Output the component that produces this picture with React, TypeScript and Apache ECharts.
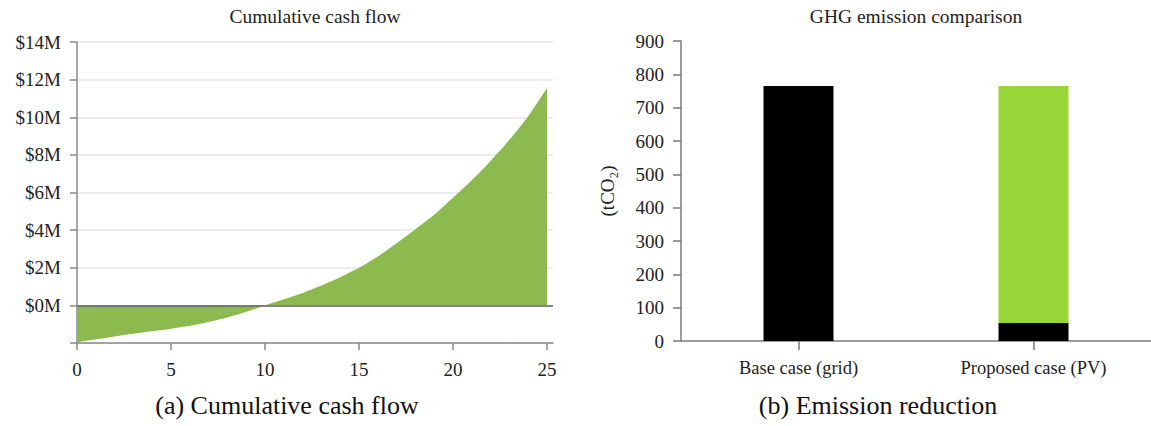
import React, { useEffect, useRef } from 'react';
import * as echarts from 'echarts';

const years = [0, 1, 2, 3, 4, 5, 6, 7, 8, 9, 10, 11, 12, 13, 14, 15, 16, 17, 18, 19, 20, 21, 22, 23, 24, 25];
const cumulativeCashFlowM = [
  -1.96, -1.8, -1.65, -1.51, -1.38, -1.24, -1.08, -0.88, -0.64, -0.34, 0.0,
  0.32, 0.66, 1.06, 1.5, 2.0, 2.6, 3.3, 4.05, 4.82, 5.72, 6.65, 7.68, 8.8, 10.05, 11.55,
];
const xTickYears = [0, 5, 10, 15, 20, 25];
const emissionCategories = ['Base case (grid)', 'Proposed case (PV)'];
const gridEmissions = [765, 54];
const pvEmissions = [0, 711];

const FONT = 'Liberation Serif';
const TICK_FS = 19;

export default function App() {
  const ref = useRef<HTMLDivElement>(null);
  useEffect(() => {
    if (!ref.current) return;
    const chart = echarts.init(ref.current, undefined, { renderer: 'svg' });
    const txt = (text: string, x: number, y: number, size: number, fill: string) => ({
      type: 'text',
      x,
      y,
      style: { text, fontSize: size, fontFamily: FONT, fill, textAlign: 'center', textVerticalAlign: 'middle' },
    });
    chart.setOption({
      animation: false,
      textStyle: { fontFamily: FONT },
      grid: [
        { left: 77, top: 42, width: 476, height: 301 },
        { left: 681, top: 41, width: 474, height: 300 },
      ],
      xAxis: [
        {
          gridIndex: 0,
          type: 'value',
          min: 0,
          max: 25.32,
          splitLine: { show: false },
          axisLine: { onZero: false, lineStyle: { color: '#8a8a8a', width: 1.5 } },
          axisTick: { show: true, length: 7, customValues: xTickYears, lineStyle: { color: '#8a8a8a', width: 1.5 } },
          axisLabel: { customValues: xTickYears, margin: 17, fontSize: TICK_FS, color: '#222', fontFamily: FONT },
        },
        {
          gridIndex: 1,
          type: 'category',
          data: emissionCategories,
          axisLine: { lineStyle: { color: '#7a7a7a', width: 1.5 } },
          axisTick: { show: true, alignWithLabel: true, length: 9, lineStyle: { color: '#7a7a7a', width: 1.5 } },
          axisLabel: { margin: 17, fontSize: 18.5, color: '#222', fontFamily: FONT },
        },
      ],
      yAxis: [
        {
          gridIndex: 0,
          type: 'value',
          min: -2,
          max: 14,
          interval: 2,
          axisLine: { show: true, lineStyle: { color: '#8a8a8a', width: 1.5 } },
          axisTick: { show: true, length: 7, lineStyle: { color: '#8a8a8a', width: 1.5 } },
          axisLabel: {
            margin: 16,
            fontSize: TICK_FS,
            color: '#222',
            fontFamily: FONT,
            formatter: (v: number) => (v < 0 ? '' : '$' + v + 'M'),
          },
          splitLine: { show: true, lineStyle: { color: '#e6e6e6', width: 1.5 } },
        },
        {
          gridIndex: 1,
          type: 'value',
          min: 0,
          max: 900,
          interval: 100,
          name: '(tCO₂)',
          nameLocation: 'middle',
          nameGap: 64,
          nameTextStyle: { fontSize: 19, color: '#222', fontFamily: FONT },
          axisLine: { show: true, lineStyle: { color: '#7a7a7a', width: 1.5 } },
          axisTick: { show: true, length: 8, lineStyle: { color: '#7a7a7a', width: 1.5 } },
          axisLabel: { margin: 17, fontSize: TICK_FS, color: '#222', fontFamily: FONT },
          splitLine: { show: false },
        },
      ],
      series: [
        {
          type: 'line',
          xAxisIndex: 0,
          yAxisIndex: 0,
          data: years.map((y, i) => [y, cumulativeCashFlowM[i]]),
          smooth: 0.3,
          showSymbol: false,
          symbol: 'none',
          lineStyle: { width: 0 },
          areaStyle: { color: '#8dba4f', opacity: 1 },
          markLine: {
            silent: true,
            symbol: 'none',
            label: { show: false },
            lineStyle: { color: '#666', type: 'solid', width: 1.5 },
            data: [{ yAxis: 0 }],
          },
        },
        {
          type: 'bar',
          name: 'Grid',
          xAxisIndex: 1,
          yAxisIndex: 1,
          stack: 'em',
          barWidth: 70,
          data: gridEmissions,
          itemStyle: { color: '#000' },
        },
        {
          type: 'bar',
          name: 'PV',
          xAxisIndex: 1,
          yAxisIndex: 1,
          stack: 'em',
          barWidth: 70,
          data: pvEmissions,
          itemStyle: { color: '#96d637' },
        },
      ],
      graphic: [
        txt('Cumulative cash flow', 315, 16, 19.5, '#222'),
        txt('GHG emission comparison', 916, 16, 19.5, '#222'),
        txt('(a) Cumulative cash flow', 287, 405, 26, '#111'),
        txt('(b) Emission reduction', 878, 405, 26, '#111'),
      ],
    });
    return () => chart.dispose();
  }, []);
  return <div ref={ref} style={{ position: 'absolute', left: 0, top: 0, width: 1151, height: 426 }} />;
}
